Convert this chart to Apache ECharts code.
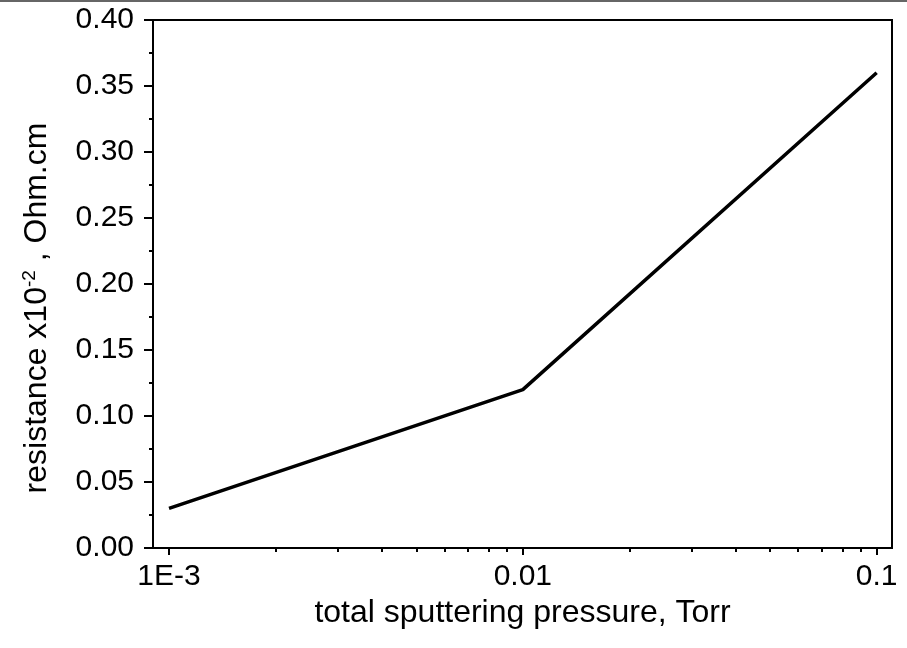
<!DOCTYPE html>
<html>
<head>
<meta charset="utf-8">
<script src="https://cdn.jsdelivr.net/npm/echarts@6/dist/echarts.min.js"></script>
<style>
  html, body { margin: 0; padding: 0; background: #fff; }
  #chart { width: 907px; height: 648px; }
</style>
</head>
<body>
<div id="chart"></div>
<script>
// pressure (Torr) and resistance (x10^-2 Ohm.cm)
var pressure = [0.001, 0.01, 0.1];
var resistance = [0.03, 0.12, 0.36];
var majorTicks = [0.001, 0.01, 0.1];
var minorTicks = [0.002, 0.003, 0.004, 0.005, 0.006, 0.007, 0.008, 0.009,
                  0.02, 0.03, 0.04, 0.05, 0.06, 0.07, 0.08, 0.09];

var chart = echarts.init(document.getElementById("chart"));
var font = "Liberation Sans, Arial, sans-serif";

var points = [];
for (var i = 0; i < pressure.length; i++) {
  points.push([pressure[i], resistance[i]]);
}

var option = {
  backgroundColor: "#fff",
  animation: false,
  textStyle: { fontFamily: font },
  graphic: [
    { type: "rect", left: 0, top: 0, shape: { width: 907, height: 2 }, style: { fill: "#666" } }
  ],
  grid: {
    left: 153, top: 20, right: 15, bottom: 100,
    show: true, borderColor: "#000", borderWidth: 2, backgroundColor: "transparent"
  },
  xAxis: [
    {
      type: "log",
      min: 0.000901,
      max: 0.1105,
      position: "bottom",
      name: "total sputtering pressure, Torr",
      nameLocation: "middle",
      nameGap: 38,
      nameTextStyle: { fontSize: 32, color: "#000", fontFamily: font },
      axisLine: { show: true, lineStyle: { color: "#000", width: 2 } },
      axisTick: { show: true, inside: false, length: 7, customValues: majorTicks, lineStyle: { color: "#000", width: 2 } },
      axisLabel: {
        customValues: majorTicks,
        fontSize: 30, color: "#000", margin: 14, fontFamily: font,
        formatter: function (v) {
          if (Math.abs(v - 0.001) < 1e-9) return "1E-3";
          return String(+v.toPrecision(3));
        }
      },
      splitLine: { show: false }
    },
    {
      type: "log",
      min: 0.000901,
      max: 0.1105,
      position: "bottom",
      axisLine: { show: false },
      axisTick: { show: true, inside: false, length: 4, customValues: minorTicks, lineStyle: { color: "#000", width: 2 } },
      axisLabel: { show: false },
      splitLine: { show: false }
    }
  ],
  yAxis: {
    type: "value",
    min: 0,
    max: 0.4,
    interval: 0.05,
    name: "resistance x10{sup|-2} , Ohm.cm",
    nameLocation: "middle",
    nameGap: 98,
    nameTextStyle: {
      fontSize: 32, color: "#000", fontFamily: font,
      padding: [0, 48, 0, 0],
      rich: {
        sup: { fontSize: 19, color: "#000", fontFamily: font, verticalAlign: "top", padding: [0, 0, 16, 0] }
      }
    },
    axisLine: { show: true, lineStyle: { color: "#000", width: 2 } },
    axisTick: { show: true, inside: false, length: 9, lineStyle: { color: "#000", width: 2 } },
    minorTick: { show: true, splitNumber: 2, length: 4, lineStyle: { color: "#000", width: 2 } },
    axisLabel: {
      fontSize: 30, color: "#000", margin: 19, fontFamily: font,
      formatter: function (v) { return v.toFixed(2); }
    },
    splitLine: { show: false }
  },
  series: [
    {
      type: "line",
      xAxisIndex: 0,
      data: points,
      symbol: "none",
      lineStyle: { color: "#000", width: 3.5 }
    }
  ]
};

chart.setOption(option);
</script>
</body>
</html>
